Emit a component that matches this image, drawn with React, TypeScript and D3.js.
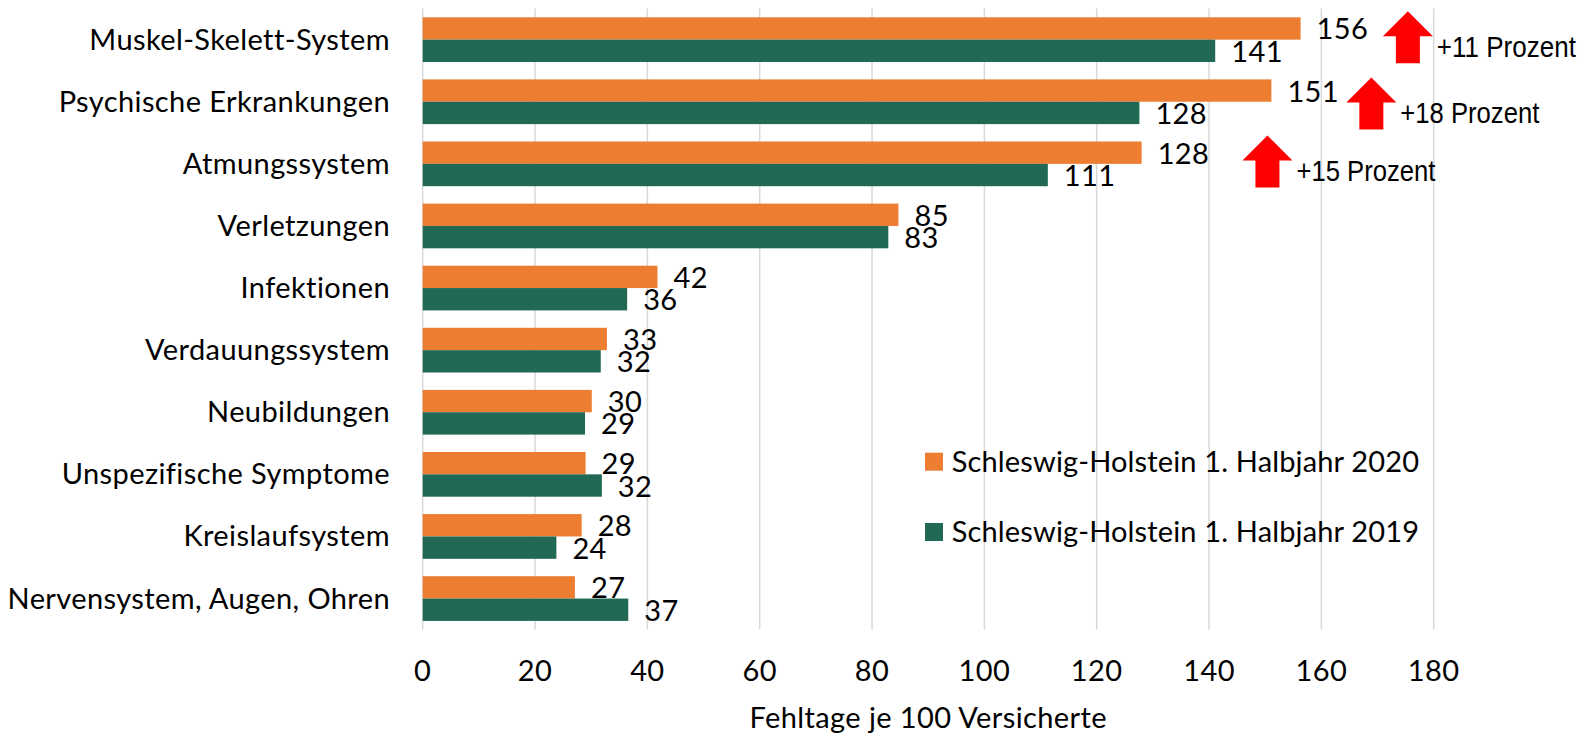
import { useEffect, useRef } from 'react';
import * as d3 from 'd3';

const CATEGORIES = [
  'Muskel-Skelett-System',
  'Psychische Erkrankungen',
  'Atmungssystem',
  'Verletzungen',
  'Infektionen',
  'Verdauungssystem',
  'Neubildungen',
  'Unspezifische Symptome',
  'Kreislaufsystem',
  'Nervensystem, Augen, Ohren',
];

const SERIES = ['Schleswig-Holstein 1. Halbjahr 2020', 'Schleswig-Holstein 1. Halbjahr 2019'];
const VALUES_2020 = [156.3, 151.1, 128.0, 84.7, 41.8, 32.8, 30.1, 29.0, 28.3, 27.1];
const VALUES_2019 = [141.1, 127.6, 111.3, 82.9, 36.4, 31.7, 28.9, 31.9, 23.8, 36.6];
const LABELS_2020 = [156, 151, 128, 85, 42, 33, 30, 29, 28, 27];
const LABELS_2019 = [141, 128, 111, 83, 36, 32, 29, 32, 24, 37];

const X_TICKS = [0, 20, 40, 60, 80, 100, 120, 140, 160, 180];
const X_TITLE = 'Fehltage je 100 Versicherte';

// red arrows: category, x position in data units, label
const ARROW_CATS = ['Muskel-Skelett-System', 'Psychische Erkrankungen', 'Atmungssystem'];
const ARROW_AT = [175.4, 168.9, 150.4];
const ARROW_TEXT = ['+11 Prozent', '+18 Prozent', '+15 Prozent'];

const COLORS = ['#ED7D31', '#216955'];
const W = 1581;
const H = 734;
const FONT = 'Lato, "Noto Sans", sans-serif';
const FS = 29;
const LS = 0.4;
const NARROW = '"Liberation Sans", Arial, sans-serif';

export default function App() {
  const ref = useRef<SVGSVGElement>(null);

  useEffect(() => {
    const svg = d3.select(ref.current);
    svg.selectAll('*').remove();

    const x = d3.scaleLinear().domain([0, 180]).range([422.7, 1433.7]);
    const y = d3.scaleBand<string>().domain(CATEGORIES).range([8.6, 629.6])
      .paddingInner(0.28).paddingOuter(0.14);
    const ySub = d3.scaleBand<string>().domain(SERIES).range([0, y.bandwidth()]);
    const plotTop = 8.6;
    const plotBottom = 629.6;

    const txt = (sel: any) => sel
      .attr('font-family', FONT).attr('font-size', FS)
      .attr('letter-spacing', LS).attr('fill', '#000');

    // gridlines
    svg.append('g').selectAll('line').data(X_TICKS).join('line')
      .attr('x1', (d) => x(d)).attr('x2', (d) => x(d))
      .attr('y1', plotTop).attr('y2', plotBottom)
      .attr('stroke', '#d9d9d9').attr('stroke-width', 1.5);

    // tick labels
    svg.append('g').selectAll('text').data(X_TICKS).join('text')
      .attr('x', (d) => x(d)).attr('y', 681)
      .attr('text-anchor', 'middle')
      .call(txt)
      .text((d) => d);

    svg.append('text')
      .attr('x', (x(0) + x(180)) / 2).attr('y', 728)
      .attr('text-anchor', 'middle')
      .call(txt)
      .text(X_TITLE);

    // category labels
    svg.append('g').selectAll('text').data(CATEGORIES).join('text')
      .attr('x', 390).attr('y', (d) => (y(d) ?? 0) + y.bandwidth() / 2 + 10)
      .attr('text-anchor', 'end')
      .call(txt)
      .text((d) => d);

    const seriesVals = [VALUES_2020, VALUES_2019];
    const seriesLabels = [LABELS_2020, LABELS_2019];

    SERIES.forEach((s, si) => {
      const g = svg.append('g');
      const rows = CATEGORIES.map((c, i) => ({ c, v: seriesVals[si][i], l: seriesLabels[si][i] }));
      g.selectAll('rect').data(rows).join('rect')
        .attr('x', x(0))
        .attr('y', (d) => (y(d.c) ?? 0) + (ySub(s) ?? 0))
        .attr('width', (d) => x(d.v) - x(0))
        .attr('height', ySub.bandwidth())
        .attr('fill', COLORS[si]);
      g.selectAll('text').data(rows).join('text')
        .attr('x', (d) => x(d.v) + 16)
        .attr('y', (d) => (y(d.c) ?? 0) + (ySub(s) ?? 0) + ySub.bandwidth() / 2 + 11)
        .call(txt)
        .text((d) => d.l);
    });

    // arrows
    ARROW_CATS.forEach((c, i) => {
      const cx = x(ARROW_AT[i]);
      const top = (y(c) ?? 0) - 6 + (i === 1 ? 4 : 0);
      const headH = 25;
      const total = 52;
      const hw = 25;
      const sw = 12;
      const pts: [number, number][] = [
        [cx, top], [cx + hw, top + headH], [cx + sw, top + headH], [cx + sw, top + total],
        [cx - sw, top + total], [cx - sw, top + headH], [cx - hw, top + headH],
      ];
      svg.append('path')
        .attr('d', d3.line()(pts) + 'Z')
        .attr('fill', '#FF0000');
      svg.append('text')
        .attr('x', cx + hw + 4).attr('y', top + 46)
        .attr('font-family', NARROW).attr('font-size', 30).attr('fill', '#000')
        .attr('textLength', 139).attr('lengthAdjust', 'spacingAndGlyphs')
        .text(ARROW_TEXT[i]);
    });

    // legend
    const legend = svg.append('g');
    SERIES.forEach((s, si) => {
      const ly = 461.7 + si * 70.3;
      legend.append('rect')
        .attr('x', 925).attr('y', ly - 9).attr('width', 18).attr('height', 18)
        .attr('fill', COLORS[si]);
      legend.append('text')
        .attr('x', 951.7).attr('y', ly + 10)
        .call(txt)
        .attr('letter-spacing', 0.15)
        .text(s);
    });
  }, []);

  return (
    <svg ref={ref} width={W} height={H}
      style={{ position: 'absolute', left: 0, top: 0, background: '#fff' }} />
  );
}
